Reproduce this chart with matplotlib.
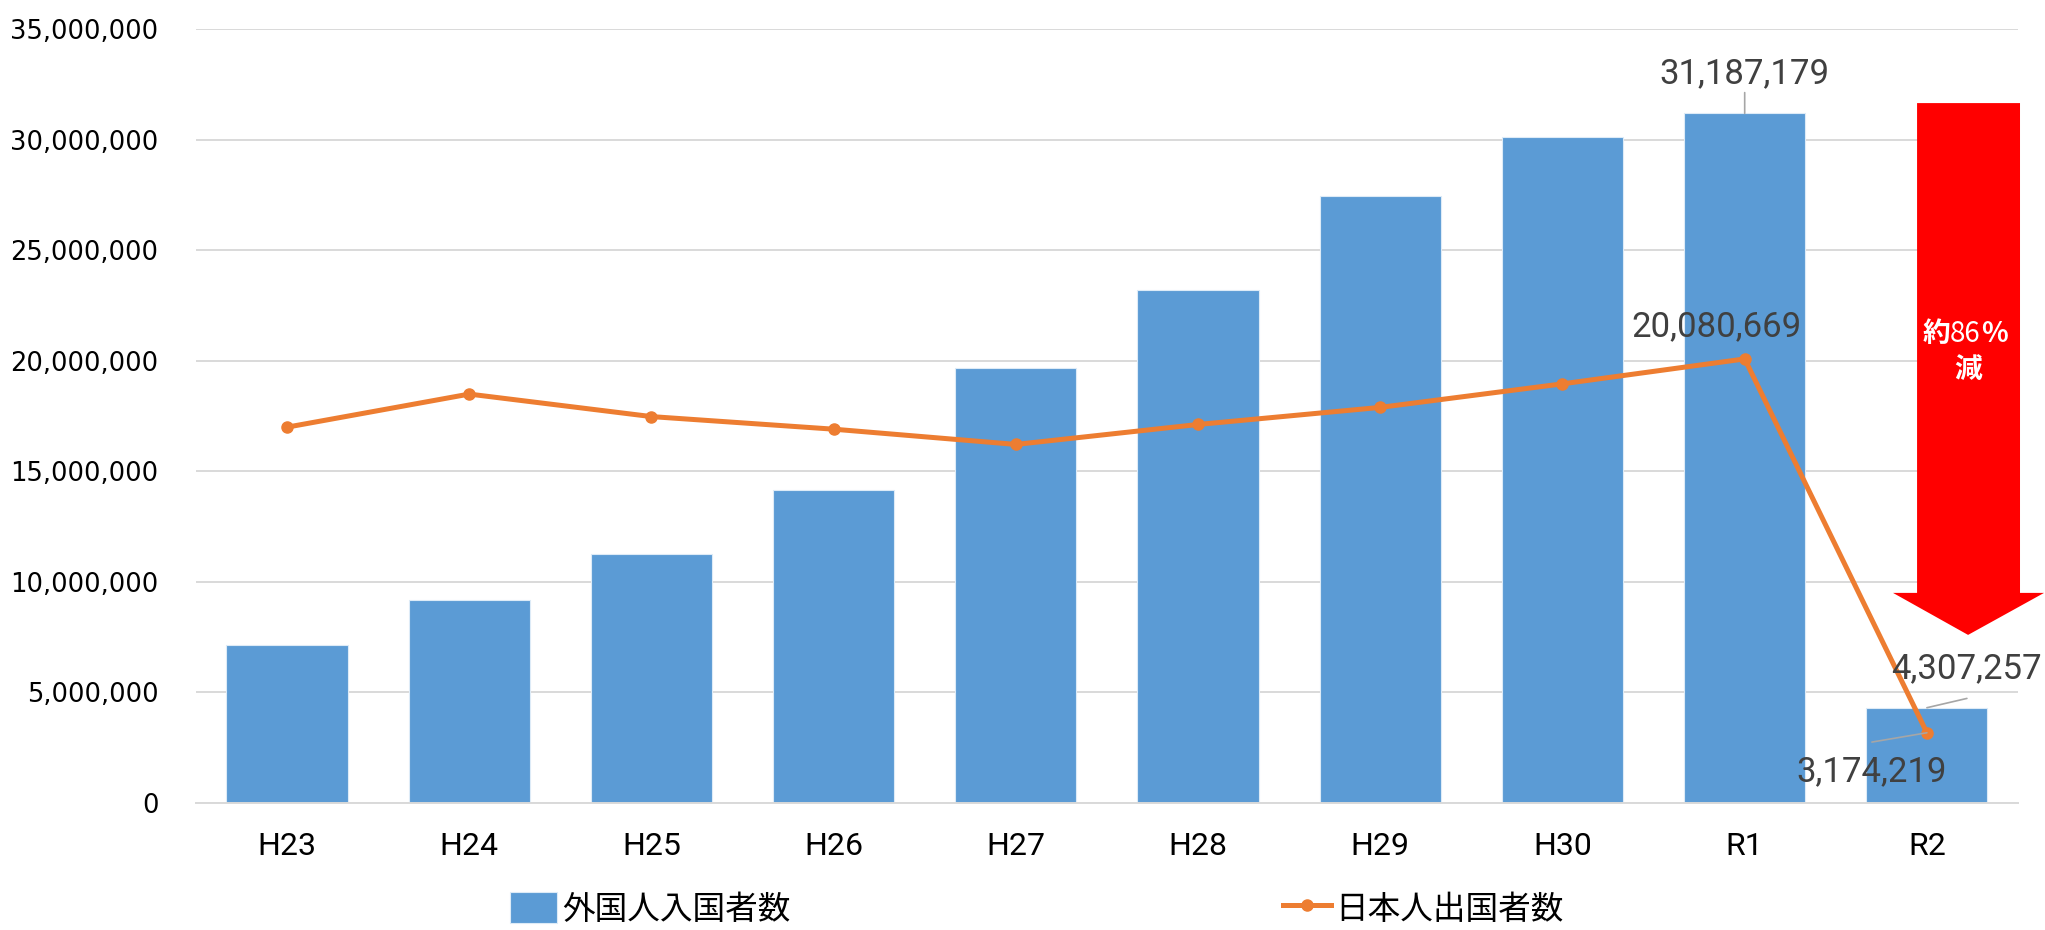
import matplotlib
matplotlib.use('Agg')
import matplotlib.pyplot as plt
from matplotlib.patches import Polygon
from matplotlib.ticker import FuncFormatter

plt.rcParams['font.family'] = ['Noto Sans CJK JP', 'DejaVu Sans']

# ------------------------------------------------------------
# Data
# ------------------------------------------------------------
years = ['H23', 'H24', 'H25', 'H26', 'H27', 'H28', 'H29', 'H30', 'R1', 'R2']
foreign_entries = [7135407, 9172146, 11255221, 14150185, 19688247,
                   23218912, 27428782, 30102102, 31187179, 4307257]
japanese_departures = [16994200, 18490657, 17472748, 16903388, 16213789,
                       17116420, 17889292, 18954031, 20080669, 3174219]

BAR_COLOR = '#5B9BD5'
LINE_COLOR = '#ED7D31'
GRID_COLOR = '#D9D9D9'
LABEL_COLOR = '#404040'

fig = plt.figure(figsize=(20.45, 9.30), dpi=100)
ax = fig.add_axes([0.0958, 0.1366, 0.891, 0.8322])

x = list(range(len(years)))
bars = ax.bar(x, foreign_entries, width=0.665, color=BAR_COLOR,
              edgecolor='#DDEBF7', linewidth=0.8, label='外国人入国者数', zorder=2)
line, = ax.plot(x, japanese_departures, color=LINE_COLOR, linewidth=3.6,
                marker='o', markersize=8, label='日本人出国者数', zorder=3)

ax.set_xlim(-0.5, len(years) - 0.5)
ax.set_ylim(0, 35000000)
ax.set_yticks(range(0, 35000001, 5000000))
ax.yaxis.set_major_formatter(FuncFormatter(lambda v, p: f'{int(v):,}'))
ax.set_xticks(x)
ax.set_xticklabels(years, family='Roboto', fontsize=23)
for lab in ax.get_yticklabels():
    lab.set_fontfamily('DejaVu Sans')
    lab.set_fontsize(18.5)

ax.tick_params(axis='y', length=0, pad=27)
ax.tick_params(axis='x', length=0, pad=21)
ax.grid(axis='y', color=GRID_COLOR, linewidth=1.4, zorder=0)
ax.set_axisbelow(True)
for side in ['top', 'right', 'left']:
    ax.spines[side].set_visible(False)
ax.spines['bottom'].set_color(GRID_COLOR)
ax.spines['bottom'].set_linewidth(1.4)

# ------------------------------------------------------------
# Data labels (R1, R2 only)
# ------------------------------------------------------------
lab_kw = dict(textcoords='offset pixels', fontsize=25, family='Roboto',
              color=LABEL_COLOR, ha='center', va='center', zorder=5)
line_kw = dict(arrowstyle='-', color='#A6A6A6', linewidth=1.2,
               shrinkA=0, shrinkB=0)

i_r1 = years.index('R1')
i_r2 = years.index('R2')

ax.annotate(f'{foreign_entries[i_r1]:,}', (i_r1, foreign_entries[i_r1]),
            xytext=(0, 40), arrowprops=dict(line_kw, relpos=(0.5, 0)),
            **lab_kw)
ax.annotate(f'{japanese_departures[i_r1]:,}', (i_r1, japanese_departures[i_r1]),
            xytext=(-28, 32), **lab_kw)
ax.annotate(f'{foreign_entries[i_r2]:,}', (i_r2, foreign_entries[i_r2]),
            xytext=(40, 39), arrowprops=dict(line_kw, relpos=(0.5, -0.4)),
            annotation_clip=False, **lab_kw)
ax.annotate(f'{japanese_departures[i_r2]:,}', (i_r2, japanese_departures[i_r2]),
            xytext=(-55, -39), arrowprops=dict(line_kw, relpos=(0.5, 1.4)),
            **lab_kw)

# ------------------------------------------------------------
# Decrease arrow
# ------------------------------------------------------------
arrow_top = 31650000
head_base = 9500000
tip = 7600000
shaft_l, shaft_r = 8.946, 9.511
head_l, head_r = 8.814, 9.643
tip_x = 9.226
arrow = Polygon([(shaft_l, arrow_top), (shaft_r, arrow_top), (shaft_r, head_base),
                 (head_r, head_base), (tip_x, tip), (head_l, head_base),
                 (shaft_l, head_base)],
                closed=True, facecolor='#FF0000', edgecolor='none',
                clip_on=False, zorder=4)
ax.add_patch(arrow)

txt_kw = dict(color='white', fontsize=20, va='center', zorder=6)
t86 = ax.text(tip_x - 0.015, 21190000, '86', ha='center', fontweight='normal',
              **txt_kw)
ax.annotate('約', xy=(0, 0.5), xycoords=t86, ha='right', fontweight='bold',
            **txt_kw)
ax.annotate('%', xy=(1, 0.5), xycoords=t86, ha='left', fontweight='bold',
            **txt_kw)
ax.text(tip_x, 19560000, '減', ha='center', fontweight='bold', **txt_kw)

# ------------------------------------------------------------
# Legend
# ------------------------------------------------------------
fig.legend([bars, line], ['外国人入国者数', '日本人出国者数'],
           loc='lower center', bbox_to_anchor=(0.507, -0.027), ncol=2,
           frameon=False, fontsize=23.5, columnspacing=15.1,
           handlelength=1.45, handleheight=1.1, handletextpad=0.15)

fig.savefig('out.png', dpi=100)
